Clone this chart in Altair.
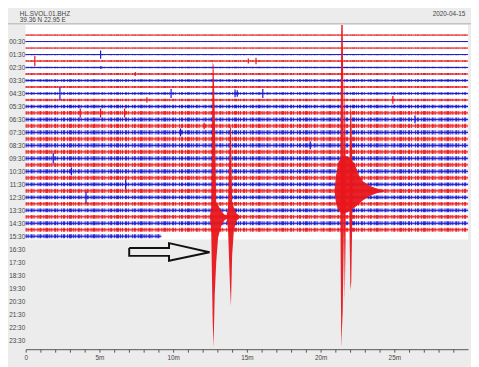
import altair as alt
import pandas as pd

# ---------------- data ----------------
TRACE_HOURS = [i * 0.5 for i in range(32)]            # start of each 30-min line
TRACE_PHASE = ["00" if i % 2 == 0 else "30" for i in range(32)]
TRACE_END_MIN = [30.0] * 31 + [9.2]                      # last line stops early
NOISE_AMP = [0.03, 0.03, 0.03, 0.04, 0.05, 0.05, 0.07, 0.09,
             0.07, 0.08, 0.08, 0.12, 0.13, 0.14, 0.14, 0.14,
             0.15, 0.15, 0.15, 0.15, 0.14, 0.14, 0.14, 0.13,
             0.14, 0.13, 0.13, 0.13, 0.13, 0.13, 0.13, 0.13]

Y_TICKS = [h + 0.5 for h in range(24)]
X_TICKS = list(range(30))

# isolated bursts: trace index, minute, amplitude (hours of the y axis)
SPIKE_TRACE = [3, 4, 5, 6, 9, 9, 9, 9, 9, 4, 4, 10, 10, 12, 12, 12, 19, 23, 25, 15, 17, 21, 13, 14]
SPIKE_MIN = [5.08, 0.62, 5.10, 7.43, 2.32, 9.86, 14.20, 14.35, 16.08, 15.10, 15.62, 8.22, 24.9,
             3.70, 5.08, 6.71, 1.87, 6.78, 4.09, 10.5, 19.3, 3.1, 26.4, 12.1]
SPIKE_AMP = [0.32, 0.40, 0.12, 0.15, 0.52, 0.35, 0.30, 0.25, 0.35, 0.20, 0.25, 0.20, 0.30,
             0.35, 0.35, 0.35, 0.40, 0.35, 0.45, 0.30, 0.30, 0.30, 0.30, 0.25]

# earthquake on the 14:00 line (two arrivals)
Q1A_MIN = [12.50, 12.58, 12.68, 12.74, 12.82, 12.92, 13.05, 13.23, 13.45, 13.75]
Q1A_TOP = [13.90, 13.30, 2.10, 2.30, 6.00, 12.90, 13.10, 13.50, 13.80, 13.95]
Q1A_BOT = [14.10, 15.00, 22.00, 24.05, 20.00, 17.50, 15.60, 14.80, 14.30, 14.05]

Q1B_MIN = [13.62, 13.72, 13.86, 13.92, 14.00, 14.12, 14.30, 14.55]
Q1B_TOP = [13.90, 13.30, 7.00, 7.20, 12.80, 13.30, 13.75, 13.95]
Q1B_BOT = [14.10, 14.90, 19.50, 20.90, 17.00, 15.00, 14.30, 14.05]

# earthquake on the 12:00 line: body and three tall strokes
Q2_MIN = [20.95, 21.05, 21.20, 21.50, 21.90, 22.30, 22.60, 22.90, 23.40, 23.90, 24.30]
Q2_TOP = [11.90, 10.80, 9.80, 9.30, 9.40, 9.90, 10.80, 11.30, 11.65, 11.85, 11.95]
Q2_BOT = [12.10, 13.00, 13.50, 13.80, 13.60, 13.30, 13.00, 12.70, 12.35, 12.15, 12.05]

Q2A_MIN = [21.34, 21.40, 21.50, 21.58]
Q2A_TOP = [11.00, -0.79, -0.79, 9.00]
Q2A_BOT = [13.00, 24.05, 21.20, 15.00]

Q2B_MIN = [21.58, 21.64, 21.70]
Q2B_TOP = [10.00, 3.00, 9.50]
Q2B_BOT = [14.00, 20.50, 15.00]

Q2C_MIN = [21.95, 22.02, 22.08, 22.15]
Q2C_TOP = [10.00, 5.50, 6.00, 10.00]
Q2C_BOT = [14.00, 19.70, 19.00, 14.00]

# outlined arrow pointing at the event (minutes, hours)
ARROW_MIN = [7.02, 9.72, 9.72, 12.47, 9.72, 9.72, 7.02, 7.02]
ARROW_HOUR = [16.41, 16.41, 16.03, 16.73, 17.39, 17.01, 17.01, 16.41]

RED = "#e8161b"
BLUE = "#1a1ad0"
FONT = "Liberation Sans"
TXT = "#444444"

# ---------------- tables ----------------
traces = pd.DataFrame({
    "h": TRACE_HOURS, "phase": TRACE_PHASE, "m": 0.0, "m2": TRACE_END_MIN,
    "amp": NOISE_AMP,
    "lo": [h - a for h, a in zip(TRACE_HOURS, NOISE_AMP)],
    "hi": [h + a for h, a in zip(TRACE_HOURS, NOISE_AMP)],
})
spikes = pd.DataFrame({
    "m": SPIKE_MIN,
    "phase": [TRACE_PHASE[i] for i in SPIKE_TRACE],
    "lo": [TRACE_HOURS[i] - a for i, a in zip(SPIKE_TRACE, SPIKE_AMP)],
    "hi": [TRACE_HOURS[i] + a for i, a in zip(SPIKE_TRACE, SPIKE_AMP)],
})
quakes = pd.concat([
    pd.DataFrame({"ev": "q1a", "m": Q1A_MIN, "lo": Q1A_TOP, "hi": Q1A_BOT}),
    pd.DataFrame({"ev": "q1b", "m": Q1B_MIN, "lo": Q1B_TOP, "hi": Q1B_BOT}),
    pd.DataFrame({"ev": "q2", "m": Q2_MIN, "lo": Q2_TOP, "hi": Q2_BOT}),
    pd.DataFrame({"ev": "q2a", "m": Q2A_MIN, "lo": Q2A_TOP, "hi": Q2A_BOT}),
    pd.DataFrame({"ev": "q2b", "m": Q2B_MIN, "lo": Q2B_TOP, "hi": Q2B_BOT}),
    pd.DataFrame({"ev": "q2c", "m": Q2C_MIN, "lo": Q2C_TOP, "hi": Q2C_BOT}),
])
arrow = pd.DataFrame({"m": ARROW_MIN, "h": ARROW_HOUR, "o": list(range(len(ARROW_MIN)))})
region = pd.DataFrame({"m": [0.0], "m2": [30.0], "lo": [-0.79], "hi": [15.75]})

XS = alt.Scale(domain=[0, 30], nice=False, zero=False)
YS = alt.Scale(domain=[-0.79, 24.2], nice=False, zero=False, reverse=True)
COL = alt.Color("phase:N", scale=alt.Scale(domain=["00", "30"], range=[RED, BLUE]), legend=None)

x_axis = alt.Axis(values=X_TICKS, title=None, grid=False, tickSize=3, labelOverlap=False,
                  labelExpr="datum.value % 5 == 0 ? (datum.value == 0 ? '0' : datum.value + 'm') : ''",
                  domainColor="#555", tickColor="#555", labelFont=FONT, labelFontSize=6.5,
                  labelColor=TXT, labelPadding=2, labelFlush=False)
y_axis = alt.Axis(values=Y_TICKS, title=None, grid=False, domain=False, ticks=False,
                  labelOverlap=False,
                  labelExpr="(floor(datum.value) < 10 ? '0' : '') + floor(datum.value) + ':30'",
                  labelFont=FONT, labelFontSize=6.5, labelColor=TXT, labelPadding=1)


def X(f):
    return alt.X(f, scale=XS, axis=x_axis)


def Y(f):
    return alt.Y(f, scale=YS, axis=y_axis)


bg = alt.Chart(region).mark_rect(color="white").encode(
    x=X("m:Q"), x2="m2:Q", y=Y("lo:Q"), y2="hi:Q")

band = alt.Chart(traces).mark_rect(opacity=0.25).encode(
    x=X("m:Q"), x2="m2:Q", y=Y("lo:Q"), y2="hi:Q", color=COL)

texture = alt.Chart(traces).mark_rule(
    strokeDash=[1, 1, 1, 2, 2, 1, 1, 3, 1, 1, 2, 2, 1, 1, 3, 1], opacity=0.85
).encode(
    x=X("m:Q"), x2="m2:Q", y=Y("h:Q"), color=COL,
    size=alt.Size("amp:Q", scale=alt.Scale(domain=[0, 0.15], range=[0, 4.5]), legend=None))

core = alt.Chart(traces).mark_rule(strokeWidth=1.0).encode(
    x=X("m:Q"), x2="m2:Q", y=Y("h:Q"), color=COL)

spk = alt.Chart(spikes).mark_rule(strokeWidth=1.2).encode(
    x=X("m:Q"), y=Y("lo:Q"), y2="hi:Q", color=COL)

eq = alt.Chart(quakes).mark_area(color=RED, opacity=0.95, clip=True).encode(
    x=X("m:Q"), y=Y("lo:Q"), y2="hi:Q", detail="ev:N")

arr = alt.Chart(arrow).mark_line(color="#111", strokeWidth=2, strokeJoin="miter").encode(
    x=X("m:Q"), y=Y("h:Q"), order="o:Q")

hdr1 = alt.Chart(pd.DataFrame({"t": ["HL.SVOL.01.BHZ"]})).mark_text(
    align="left", baseline="middle", font=FONT, fontSize=6.5, color=TXT
).encode(x=alt.value(-6), y=alt.value(-10.5), text="t:N")
hdr2 = alt.Chart(pd.DataFrame({"t": ["39.36 N 22.95 E"]})).mark_text(
    align="left", baseline="middle", font=FONT, fontSize=6.5, color=TXT
).encode(x=alt.value(-6), y=alt.value(-4.5), text="t:N")
hdr3 = alt.Chart(pd.DataFrame({"t": ["2020-04-15"]})).mark_text(
    align="left", baseline="middle", font=FONT, fontSize=6.5, color=TXT
).encode(x=alt.value(414), y=alt.value(-10.5), text="t:N")
sep = alt.Chart(pd.DataFrame({"a": [0]})).mark_rule(color="#b0b0b0", strokeWidth=1).encode(
    x=alt.value(-18), x2=alt.value(453), y=alt.value(-1))

chart = alt.layer(bg, band, texture, core, spk, eq, arr, sep, hdr1, hdr2, hdr3).properties(
    width=450, height=330,
    autosize=alt.AutoSizeParams(type="none"),
    padding={"left": 18, "top": 14, "right": 3, "bottom": 15},
    background="#ececec",
).configure_view(stroke=None)

chart.save("out.html", embed_options={"renderer": "svg", "actions": False})
